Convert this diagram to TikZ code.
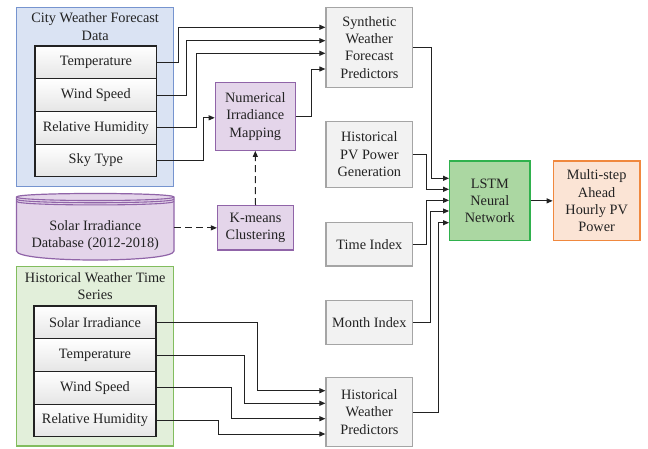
\documentclass[tikz,border=0pt]{standalone}
\usepackage{fontspec}
\setmainfont{Liberation Serif}
\usetikzlibrary{arrows.meta,calc}
\definecolor{txt}{HTML}{222222}
\definecolor{bluefill}{HTML}{DAE3F3}
\definecolor{blueline}{HTML}{7694CF}
\definecolor{greenfill}{HTML}{E2EFDA}
\definecolor{greenline}{HTML}{82BD5E}
\definecolor{purfill}{HTML}{E4D5EA}
\definecolor{purline}{HTML}{9064A8}
\definecolor{grayfill}{HTML}{F2F2F2}
\definecolor{grayline}{HTML}{A5A5A5}
\definecolor{lstmfill}{HTML}{ABD7A2}
\definecolor{lstmline}{HTML}{2FB14D}
\definecolor{orfill}{HTML}{FBE4D5}
\definecolor{orline}{HTML}{F0883E}
\tikzset{
  every node/.style={font=\fontsize{14.3}{17.4}\selectfont, text=txt, align=center, inner sep=0pt},
  group/.style={rectangle, line width=1.2pt, minimum width=157pt},
  rowbox/.style={rectangle, draw=txt, line width=1.1pt, top color=white, bottom color=black!10, minimum height=32.7pt},
  graybox/.style={rectangle, draw=grayline, fill=grayfill, line width=1.2pt, minimum width=86.7pt},
  purbox/.style={rectangle, draw=purline, fill=purfill, line width=1.2pt},
  arr/.style={draw=txt, line width=1pt, -{Triangle[length=6pt,width=5pt]}},
  darr/.style={arr, dash pattern=on 7pt off 4pt}
}
\begin{document}
\begin{tikzpicture}[x=1pt,y=-1pt]
\useasboundingbox (0,0) rectangle (648,448);
% city weather forecast group
\node[group, draw=blueline, fill=bluefill, minimum height=179.4pt] (cwg) at (95.2,97) {};
\node (cwt) at (95.2,26.5) {City Weather Forecast\\Data};
\node[rowbox, minimum width=121.7pt] (cw1) at (95.85,62.35) {Temperature};
\node[rowbox, minimum width=121.7pt] (cw2) at (95.85,95.05) {Wind Speed};
\node[rowbox, minimum width=121.7pt] (cw3) at (95.85,127.75) {Relative Humidity};
\node[rowbox, minimum width=121.7pt] (cw4) at (95.85,160.45) {Sky Type};
% historical weather group
\node[group, draw=greenline, fill=greenfill, minimum height=179.3pt] (hwg) at (95.2,356.35) {};
\node (hwt) at (95.2,286.3) {Historical Weather Time\\Series};
\node[rowbox, minimum width=122pt] (hw1) at (95,322.35) {Solar Irradiance};
\node[rowbox, minimum width=122pt] (hw2) at (95,355.05) {Temperature};
\node[rowbox, minimum width=122pt] (hw3) at (95,387.75) {Wind Speed};
\node[rowbox, minimum width=122pt] (hw4) at (95,420.45) {Relative Humidity};
% database cylinder
\path[fill=purfill, draw=purline, line width=1.2pt]
  (16.5,197) -- (16.5,251) .. controls (16.5,263) and (174,263) .. (174,251)
  -- (174,197) .. controls (174,192.3) and (16.5,192.3) .. cycle;
\draw[purline, line width=1.1pt] (16.5,197) .. controls (16.5,201.7) and (174,201.7) .. (174,197);
\draw[purline, line width=1.1pt] (16.5,199.2) .. controls (16.5,203.9) and (174,203.9) .. (174,199.2);
\draw[purline, line width=1.1pt] (16.5,201.4) .. controls (16.5,206.1) and (174,206.1) .. (174,201.4);
\node[minimum width=157.5pt, minimum height=40pt] (db) at (95.25,235.5) {Solar Irradiance\\Database (2012-2018)};
% purple process boxes
\node[purbox, minimum width=80pt, minimum height=68pt] (nim) at (255.3,116.3) {Numerical\\Irradiance\\Mapping};
\node[purbox, minimum width=76pt, minimum height=44.3pt] (km) at (255.5,227.85) {K-means\\Clustering};
% gray boxes
\node[graybox, minimum height=80pt] (syn) at (369.35,47.3) {Synthetic\\Weather\\Forecast\\Predictors};
\node[graybox, minimum height=65.6pt] (pv) at (369.35,154.5) {Historical\\PV Power\\Generation};
\node[graybox, minimum height=43.3pt] (ti) at (369.35,244.35) {Time Index};
\node[graybox, minimum height=43.6pt] (mi) at (369.35,322.5) {Month Index};
\node[graybox, minimum height=69.4pt] (hwp) at (369.35,412) {Historical\\Weather\\Predictors};
% LSTM and output
\node[rectangle, draw=lstmline, fill=lstmfill, line width=1.3pt, minimum width=80.3pt, minimum height=79.7pt] (lstm) at (489.85,200.85) {LSTM\\Neural\\Network};
\node[rectangle, draw=orline, fill=orfill, line width=1.3pt, minimum width=86.7pt, minimum height=79.7pt] (out) at (596.65,200.85) {Multi-step\\Ahead\\Hourly PV\\Power};
% connectors: city forecast
\draw[arr] (cw1.east) -- ++(21.45,0) |- ([yshift=20pt]syn.west);
\draw[arr] (cw2.east) -- ++(28.85,0) |- ([yshift=6.6pt]syn.west);
\draw[arr] (cw3.east) -- ++(39.15,0) |- ([yshift=-6pt]syn.west);
\draw[arr] (cw4.east) -- ++(46.45,0) |- ([yshift=-1.5pt]nim.west);
\draw[arr] (nim.east) -- ++(15.4,0) |- ([yshift=-21.7pt]syn.west);
% dashed
\draw[darr] (db.east |- km.west) -- (km.west);
\draw[darr] (km.north) -- (nim.south);
% into LSTM
\draw[arr] (syn.east) -- ++(18,0) |- ([yshift=22.55pt]lstm.west);
\draw[arr] (pv.east) -- ++(13.3,0) |- ([yshift=11.55pt]lstm.west);
\draw[arr] (ti.east) -- ++(13.3,0) |- ([yshift=0.5pt]lstm.west);
\draw[arr] (mi.east) -- ++(17.5,0) |- ([yshift=-10.15pt]lstm.west);
\draw[arr] (hwp.east) -- ++(25,0) |- ([yshift=-21.85pt]lstm.west);
\draw[arr] (lstm.east) -- (out.west);
% historical rows
\draw[arr] (hw1.east) -- ++(100.7,0) |- ([yshift=21.3pt]hwp.west);
\draw[arr] (hw2.east) -- ++(87.7,0) |- ([yshift=8.7pt]hwp.west);
\draw[arr] (hw3.east) -- ++(74.7,0) |- ([yshift=-6.7pt]hwp.west);
\draw[arr] (hw4.east) -- ++(61.7,0) |- ([yshift=-22pt]hwp.west);
\end{tikzpicture}
\end{document}
